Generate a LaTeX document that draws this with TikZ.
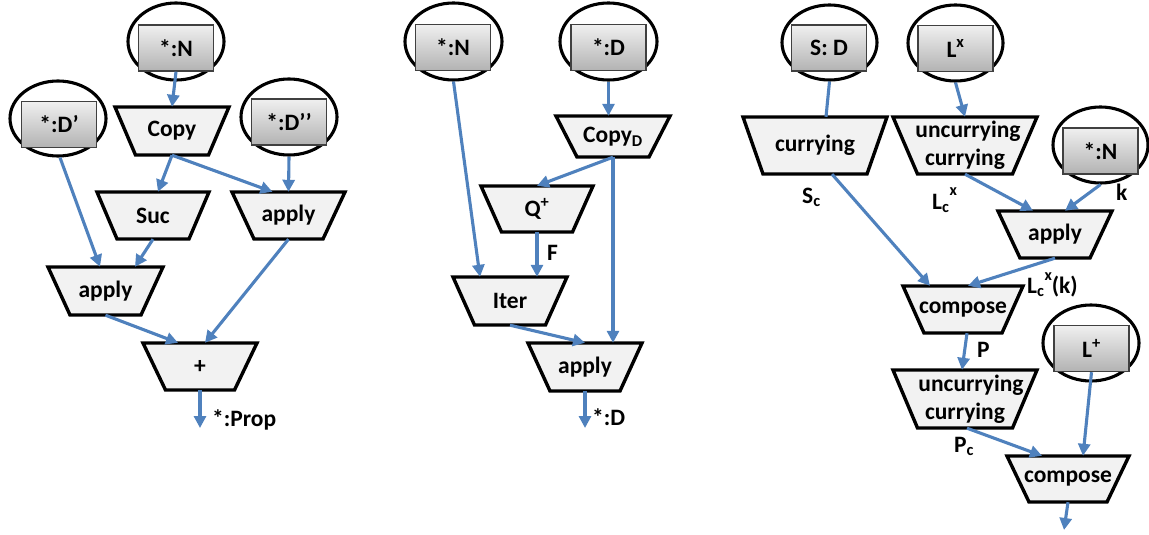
\documentclass[tikz,border=0pt]{standalone}
\usepackage{fontspec}
\setmainfont{Carlito}
\usetikzlibrary{shapes.geometric,arrows.meta}
\definecolor{arrowblue}{HTML}{4F81BD}
\definecolor{trapfill}{HTML}{F2F2F2}
\definecolor{rectedge}{HTML}{404040}
\tikzset{
  trapline/.style={draw=black, line width=3.4pt, line join=miter, fill=trapfill},
  traptext/.style={inner sep=0pt, align=center, font=\fontsize{23.5}{28}\selectfont\bfseries},
  ovalshape/.style={ellipse, draw=black, line width=3.1pt, fill=white, inner sep=0pt},
  rectbox/.style={rectangle, draw=rectedge, line width=1.4pt, top color=black!6, bottom color=black!30,
    minimum width=75pt, minimum height=46pt, inner sep=0pt, font=\fontsize{23.5}{28}\selectfont\bfseries},
  conn/.style={draw=arrowblue, line width=3.1pt, -{Triangle[width=12pt,length=12pt]}},
  plainconn/.style={draw=arrowblue, line width=3.1pt},
  lbl/.style={inner sep=0pt, anchor=base west, font=\fontsize{23.5}{28}\selectfont\bfseries},
}
\newcommand\trapnode[7]{%
  \draw[trapline] (#2-#4/2,#3) -- (#2+#4/2,#3) -- (#2+#5/2,#3+#6) -- (#2-#5/2,#3+#6) -- cycle;
  \node[traptext, minimum width=#4pt, minimum height=#6pt] (#1) at (#2,#3+#6/2) {#7};
}
\newcommand\ovalnode[8]{%
  \node[ovalshape, minimum width=#4pt, minimum height=#5pt] (#1) at (#2,#3) {};
  \node[rectbox] (#1r) at (#6,#7) {#8};
}
\begin{document}
\begin{tikzpicture}[x=1pt,y=-1pt]
\useasboundingbox (0,0) rectangle (1149,535);
% ---------------- left diagram ----------------
\ovalnode{eNa}{176}{41.5}{96}{77}{176}{48}{*:N}
\ovalnode{eDa}{58}{118.5}{96}{75}{59}{124.5}{*:D’}
\ovalnode{eDb}{289}{117}{96}{76}{289}{122}{*:D’’}
\trapnode{copyL}{172}{107}{114}{73}{48}{Copy}
\trapnode{suc}{153}{192}{112}{72}{47}{Suc}
\trapnode{applyA}{288.5}{192}{113}{69}{47}{apply}
\trapnode{applyB}{105.5}{267}{115}{71}{48}{apply}
\trapnode{plus}{200}{343}{114}{69}{47}{+}
\coordinate (outP) at (200,428);
\draw[conn] (eNar.south) -- (copyL.north);
\draw[conn] (copyL.south) -- ([xshift=5pt]suc.north);
\draw[conn] (copyL.south) -- ([xshift=-16pt]applyA.north);
\draw[conn] (eDb.south) -- (applyA.north);
\draw[conn] ([xshift=2pt]eDa.south) -- ([xshift=-5.5pt]applyB.north);
\draw[conn] (suc.south) -- ([xshift=29.5pt]applyB.north);
\draw[conn] (applyA.south) -- ([xshift=5pt]plus.north);
\draw[conn] (applyB.south) -- ([xshift=-22pt]plus.north);
\draw[conn] (plus.south) -- (outP);
\node[lbl] (lprop) at (212,426) {*:Prop};
% ---------------- middle diagram ----------------
\ovalnode{eNb}{453.5}{41.5}{97}{77}{453}{47.5}{*:N}
\ovalnode{eDc}{608.5}{41.5}{97}{77}{608.5}{47.5}{*:D}
\trapnode{copyD}{613}{116}{114}{72}{41}{Copy\textsubscript{D}}
\trapnode{qplus}{537}{186}{112}{71}{46}{Q\textsuperscript{+}}
\trapnode{iter}{510}{277}{114}{71}{48}{Iter}
\trapnode{applyM}{585}{343}{114}{70}{48}{apply}
\coordinate (outD) at (585,428);
\draw[conn] (eDc.south) -- ([xshift=-4.5pt]copyD.north);
\draw[conn] (copyD.south) -- (qplus.north);
\draw[conn] (copyD.south) -- ([xshift=28pt]applyM.north);
\draw[conn] (eNb.south) -- ([xshift=-30pt]iter.north);
\draw[conn] (qplus.south) -- ([xshift=27pt]iter.north);
\draw[conn] (iter.south) -- (applyM.north);
\draw[conn] (applyM.south) -- (outD);
\node[lbl] (lF) at (547,260) {F};
\node[lbl] (lD) at (592,425) {*:D};
% ---------------- right diagram ----------------
\ovalnode{eS}{829.5}{42.5}{95}{75}{829}{48}{S: D}
\ovalnode{eL}{955.5}{43}{95}{76}{955.5}{48.5}{L\textsuperscript{x}}
\ovalnode{eNc}{1100.5}{145}{95}{76}{1100.5}{151}{*:N}
\ovalnode{eLp}{1091}{343}{96}{76}{1091.5}{348.5}{L\textsuperscript{+}}
\trapnode{curry}{815}{117}{144}{104}{57}{currying}
\trapnode{uncurA}{965}{117}{144}{95}{57}{\hspace*{6pt}uncurrying\\currying}
\trapnode{applyR}{1055}{211}{114}{70}{47}{apply}
\trapnode{compA}{963}{286}{120}{78}{47}{compose}
\trapnode{uncurB}{965}{370}{144}{95}{58}{\hspace*{12pt}uncurrying\\currying}
\trapnode{compB}{1068}{456}{122}{78}{46}{compose}
\coordinate (outR) at (1064,530);
\draw[plainconn] (eS.south) -- ([xshift=11pt]curry.north);
\draw[conn] (eL.south) -- (uncurA.north);
\draw[conn] (uncurA.south) -- ([xshift=-22pt]applyR.north);
\draw[conn] (eNc.south) -- ([xshift=10pt]applyR.north);
\draw[conn] ([xshift=17pt]curry.south) -- ([xshift=-33pt]compA.north);
\draw[conn] (applyR.south) -- ([xshift=5pt]compA.north);
\draw[conn] ([xshift=4pt]compA.south) -- ([xshift=-3pt]uncurB.north);
\draw[conn] (eLpr.south) -- ([xshift=15pt]compB.north);
\draw[conn] ([xshift=2pt]uncurB.south) -- ([xshift=-26pt]compB.north);
\draw[conn] (compB.south) -- (outR);
\node[lbl] (lSc) at (802,203) {S\textsubscript{c}};
\node[lbl] (lLcx) at (932,209) {L\textsubscript{c}\raisebox{14pt}{\fontsize{16}{18}\selectfont x}};
\node[lbl] (lk) at (1116,200) {k};
\node[lbl] (lLk) at (1027,293) {L\textsubscript{c}\raisebox{13pt}{\fontsize{16}{18}\selectfont x}(k)};
\node[lbl] (lP) at (977,357) {P};
\node[lbl] (lPc) at (954,452) {P\textsubscript{c}};
\end{tikzpicture}
\end{document}
